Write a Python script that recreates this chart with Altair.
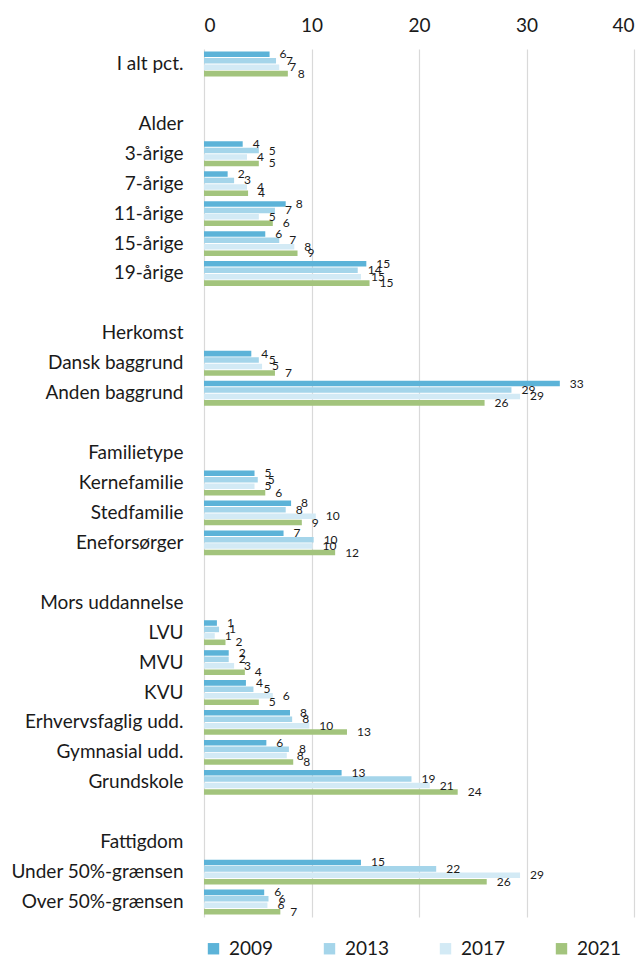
import altair as alt
import pandas as pd

categories = ["I alt pct.", " ", "Alder", "3-årige", "7-årige", "11-årige", "15-årige", "19-årige", "  ",
              "Herkomst", "Dansk baggrund", "Anden baggrund", "   ",
              "Familietype", "Kernefamilie", "Stedfamilie", "Eneforsørger", "    ",
              "Mors uddannelse", "LVU", "MVU", "KVU", "Erhvervsfaglig udd.", "Gymnasial udd.", "Grundskole", "     ",
              "Fattigdom", "Under 50%-grænsen", "Over 50%-grænsen"]

years = ["2009", "2013", "2017", "2021"]
colors = ["#5CB3D8", "#A5D5EA", "#D3EAF5", "#A3C47D"]

v2009 = [6.1, None, None, 3.6, 2.2, 7.6, 5.7, 15.1, None, None, 4.4, 33.1, None, None, 4.7, 8.1, 7.4, None,
         None, 1.2, 2.3, 3.9, 8.0, 5.8, 12.8, None, None, 14.6, 5.6]
v2013 = [6.7, None, None, 5.1, 2.8, 6.6, 7.0, 14.3, None, None, 5.1, 28.6, None, None, 5.0, 7.6, 10.2, None,
         None, 1.4, 2.3, 4.6, 8.2, 7.9, 19.3, None, None, 21.6, 6.0]
v2017 = [7.0, None, None, 4.0, 4.0, 5.1, 8.4, 14.6, None, None, 5.4, 29.4, None, None, 4.7, 10.4, 10.1, None,
         None, 1.0, 2.8, 6.4, 9.8, 7.7, 21.0, None, None, 29.4, 5.9]
v2021 = [7.8, None, None, 5.1, 4.1, 6.4, 8.7, 15.4, None, None, 6.6, 26.1, None, None, 5.7, 9.1, 12.2, None,
         None, 2.0, 3.8, 5.1, 13.3, 8.3, 23.6, None, None, 26.3, 7.1]

series = [v2009, v2013, v2017, v2021]
rows = []
for yr, vals in zip(years, series):
    for cat, v in zip(categories, vals):
        if v is not None:
            rows.append({"cat": cat, "year": yr, "value": v})
df = pd.DataFrame(rows)

FONT = "Lato"
FS = 19

y_enc = alt.Y("cat:N", sort=categories,
              scale=alt.Scale(domain=categories, paddingInner=0.17, paddingOuter=0.085),
              axis=alt.Axis(title=None, labelFontSize=FS, labelColor="#1a1a1a", labelFont=FONT,
                            ticks=False, domain=False, labelPadding=21, labelLimit=300))
yoff = alt.YOffset("year:N", sort=years, scale=alt.Scale(paddingInner=0.14))
x_enc = alt.X("value:Q", scale=alt.Scale(domain=[0, 40]),
              axis=alt.Axis(title=None, orient="top", values=[0, 10, 20, 30, 40], labelFontSize=FS,
                            labelFont=FONT, labelColor="#1a1a1a", ticks=False, domain=False,
                            grid=True, gridColor="#d9d9d9", gridWidth=1.2, labelPadding=14))

bars = alt.Chart(df).mark_bar().encode(
    x=x_enc, y=y_enc, yOffset=yoff,
    color=alt.Color("year:N", sort=years, scale=alt.Scale(domain=years, range=colors),
                    legend=alt.Legend(title=None, orient="bottom", direction="horizontal",
                                      symbolType="square", symbolSize=130, symbolStrokeWidth=0,
                                      labelFontSize=FS, labelFont=FONT, labelColor="#1a1a1a",
                                      columnPadding=46, offset=22, labelOffset=6))
)

labels = alt.Chart(df).mark_text(align="left", baseline="middle", dx=10, fontSize=12, font=FONT,
                                 color="#1a1a1a").encode(
    x="value:Q", y=alt.Y("cat:N", sort=categories), yOffset=alt.YOffset("year:N", sort=years),
    text=alt.Text("value:Q", format=".0f")
)

chart = alt.layer(bars, labels).properties(
    width=430, height=868,
    autosize=alt.AutoSizeParams(type="none"),
    padding={"left": 196, "top": 41, "right": 2, "bottom": 41},
).configure_view(stroke=None)

chart.save("out.html", embed_options={"renderer": "svg", "actions": False})
